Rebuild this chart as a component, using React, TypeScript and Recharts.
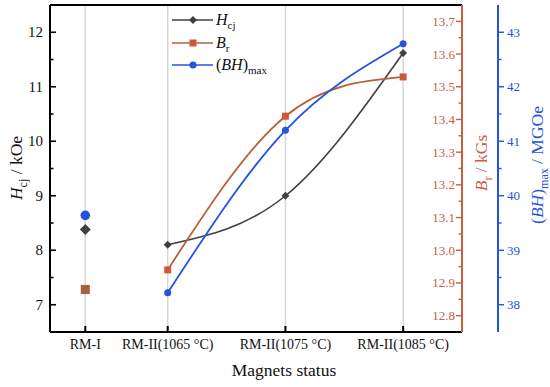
import React from 'react';
import { ComposedChart, Line, XAxis, YAxis, CartesianGrid, ReferenceLine, Legend } from 'recharts';

const categories = ['RM-I', 'RM-II(1065 °C)', 'RM-II(1075 °C)', 'RM-II(1085 °C)'];
const xValues = [1058, 1065, 1075, 1085];
const hcjValues = [8.38, 8.1, 9.0, 11.62];
const brValues = [12.88, 12.94, 13.41, 13.53];
const bhValues = [39.64, 38.22, 41.2, 42.79];

const hcjTicks = [7, 7.5, 8, 8.5, 9, 9.5, 10, 10.5, 11, 11.5, 12];
const brTicks = [12.8, 12.85, 12.9, 12.95, 13.0, 13.05, 13.1, 13.15, 13.2, 13.25, 13.3, 13.35, 13.4, 13.45, 13.5, 13.55, 13.6, 13.65, 13.7];
const bhTicks = [38, 38.5, 39, 39.5, 40, 40.5, 41, 41.5, 42, 42.5, 43];

const rows = xValues.map((x, i) => ({ x, hcj: hcjValues[i], br: brValues[i], bh: bhValues[i] }));
const rmIData = rows.slice(0, 1);
const lineData = rows.slice(1);

const FONT = 'Liberation Serif, DejaVu Serif, serif';
const HCJ_COLOR = '#404040';
const BR_LINE = '#b8603a';
const BR_MARK = '#d4553a';
const BR_AXIS = '#c8603f';
const BH_COLOR = '#2553df';
const BH_AXIS = '#2452e0';

const isMult = (v: number, step: number) => Math.abs(v / step - Math.round(v / step)) < 1e-6;

const LeftTick = (p: any) => {
  const { x, y, payload } = p;
  const major = isMult(payload.value, 1);
  return (
    <g>
      <line x1={x} x2={x + (major ? 6 : 3.5)} y1={y} y2={y} stroke="#000" strokeWidth={1.6} />
      {major && (
        <text x={x - 7} y={y} dy={5} textAnchor="end" style={{ fontFamily: FONT, fontSize: 15 }} fill="#111">
          {payload.value}
        </text>
      )}
    </g>
  );
};

const BrTick = (p: any) => {
  const { x, y, payload } = p;
  const major = isMult(payload.value, 0.1);
  return (
    <g>
      <line x1={x} x2={x - (major ? 6 : 3.5)} y1={y} y2={y} stroke={BR_AXIS} strokeWidth={1.4} />
      {major && (
        <text x={x - 7} y={y} dy={4.5} textAnchor="end" style={{ fontFamily: FONT, fontSize: 13 }} fill={BR_AXIS}>
          {payload.value.toFixed(1)}
        </text>
      )}
    </g>
  );
};

const BhTick = (p: any) => {
  const { x, y, payload } = p;
  const major = isMult(payload.value, 1);
  return (
    <g>
      <line x1={x} x2={x + (major ? 6 : 3.5)} y1={y} y2={y} stroke={BH_AXIS} strokeWidth={1.4} />
      {major && (
        <text x={x + 9} y={y} dy={4.5} textAnchor="start" style={{ fontFamily: FONT, fontSize: 13 }} fill={BH_AXIS}>
          {payload.value}
        </text>
      )}
    </g>
  );
};

const XTick = (p: any) => {
  const { x, y, payload } = p;
  const idx = xValues.indexOf(payload.value);
  return (
    <g>
      <line x1={x} x2={x} y1={y} y2={y - 6} stroke="#000" strokeWidth={2} />
      <text x={x} y={y + 17} textAnchor="middle" style={{ fontFamily: FONT, fontSize: 14 }} fill="#111">
        {categories[idx]}
      </text>
    </g>
  );
};

const Diamond = (size: number, color: string) => (p: any) => {
  const { cx, cy, index } = p;
  if (cx == null || cy == null) return <g key={index} />;
  return (
    <polygon
      key={index}
      points={`${cx},${cy - size} ${cx + size},${cy} ${cx},${cy + size} ${cx - size},${cy}`}
      fill={color}
    />
  );
};
const Square = (size: number, color: string) => (p: any) => {
  const { cx, cy, index } = p;
  if (cx == null || cy == null) return <g key={index} />;
  return <rect key={index} x={cx - size} y={cy - size} width={size * 2} height={size * 2} fill={color} />;
};
const Circle = (r: number, color: string) => (p: any) => {
  const { cx, cy, index } = p;
  if (cx == null || cy == null) return <g key={index} />;
  return <circle key={index} cx={cx} cy={cy} r={r} fill={color} />;
};

const LeftLabel = () => (
  <text transform="translate(22,168) rotate(-90)" textAnchor="middle" style={{ fontFamily: FONT, fontSize: 17.5 }} fill="#111">
    <tspan fontStyle="italic">H</tspan>
    <tspan style={{ fontSize: 12 }} dy={5}>cj</tspan>
    <tspan dy={-5}> / kOe</tspan>
  </text>
);

const BrLabel = () => (
  <text transform="translate(487,163) rotate(-90)" textAnchor="middle" style={{ fontFamily: FONT, fontSize: 17.5 }} fill={BR_AXIS}>
    <tspan fontStyle="italic">B</tspan>
    <tspan style={{ fontSize: 12 }} dy={5}>r</tspan>
    <tspan dy={-5}> / kGs</tspan>
  </text>
);

const BhLabel = () => (
  <text transform="translate(543,165) rotate(-90)" textAnchor="middle" style={{ fontFamily: FONT, fontSize: 17.5 }} fill={BH_AXIS}>
    <tspan>(</tspan>
    <tspan fontStyle="italic">BH</tspan>
    <tspan>)</tspan>
    <tspan style={{ fontSize: 12 }} dy={5}>max</tspan>
    <tspan dy={-5}> / MGOe</tspan>
  </text>
);

const XLabel = () => (
  <text x={284} y={376} textAnchor="middle" style={{ fontFamily: FONT, fontSize: 17.5 }} fill="#111">
    Magnets status
  </text>
);

const LegendContent = () => (
  <svg width={130} height={72} style={{ display: 'block' }}>
    <g style={{ fontFamily: FONT, fontSize: 16 }} fill="#111">
      <line x1={4} x2={45} y1={12} y2={12} stroke={HCJ_COLOR} strokeWidth={1.6} />
      <polygon points="25,8 29,12 25,16 21,12" fill={HCJ_COLOR} />
      <text x={48} y={17}>
        <tspan fontStyle="italic">H</tspan>
        <tspan style={{ fontSize: 11 }} dy={4}>cj</tspan>
      </text>
      <line x1={4} x2={45} y1={35} y2={35} stroke={BR_LINE} strokeWidth={1.6} />
      <rect x={21.5} y={31.5} width={7} height={7} fill={BR_MARK} />
      <text x={48} y={40}>
        <tspan fontStyle="italic">B</tspan>
        <tspan style={{ fontSize: 11 }} dy={4}>r</tspan>
      </text>
      <line x1={4} x2={45} y1={57} y2={57} stroke={BH_COLOR} strokeWidth={1.6} />
      <circle cx={25} cy={57} r={3.5} fill={BH_COLOR} />
      <text x={48} y={62}>
        <tspan>(</tspan>
        <tspan fontStyle="italic">BH</tspan>
        <tspan>)</tspan>
        <tspan style={{ fontSize: 11 }} dy={4}>max</tspan>
      </text>
    </g>
  </svg>
);

export default function App() {
  return (
    <div style={{ position: 'absolute', left: 0, top: 0, background: '#fff' }}>
      <ComposedChart width={550} height={387} margin={{ top: 5, right: 0, bottom: 0, left: 0 }}>
        <CartesianGrid horizontal={false} stroke="#d6d6d6" strokeWidth={1.5} />
        <XAxis
          type="number"
          dataKey="x"
          domain={[1055, 1090]}
          ticks={xValues}
          interval={0}
          allowDataOverflow
          height={55}
          tickSize={0}
          tickMargin={0}
          tick={XTick}
          axisLine={{ stroke: '#000', strokeWidth: 2 }}
          tickLine={false}
          label={XLabel}
        />
        <YAxis
          domain={[6.5, 12.5]}
          ticks={hcjTicks}
          interval={0}
          allowDataOverflow
          width={50}
          tickSize={0}
          tickMargin={0}
          tick={LeftTick}
          tickLine={false}
          axisLine={{ stroke: '#000', strokeWidth: 2 }}
          label={LeftLabel}
        />
        <YAxis
          yAxisId="r2"
          orientation="right"
          domain={[37.5, 43.5]}
          ticks={bhTicks}
          interval={0}
          allowDataOverflow
          width={52}
          tickSize={0}
          tickMargin={0}
          tick={BhTick}
          tickLine={false}
          axisLine={{ stroke: BH_AXIS, strokeWidth: 2 }}
          label={BhLabel}
        />
        <YAxis
          yAxisId="r1"
          orientation="right"
          domain={[12.75, 13.75]}
          ticks={brTicks}
          interval={0}
          allowDataOverflow
          width={36}
          tickSize={0}
          tickMargin={0}
          tick={BrTick}
          tickLine={false}
          axisLine={{ stroke: BR_AXIS, strokeWidth: 2 }}
          label={BrLabel}
        />
        <ReferenceLine y={12.5} stroke="#000" strokeWidth={2} />
        <Legend
          layout="vertical"
          align="center"
          verticalAlign="middle"
          wrapperStyle={{ left: 168, top: 8, width: 130 }}
          content={LegendContent}
        />
        <Line data={lineData} dataKey="hcj" type="natural" stroke={HCJ_COLOR} strokeWidth={1.6} dot={Diamond(4, HCJ_COLOR)} isAnimationActive={false} />
        <Line data={lineData} yAxisId="r1" dataKey="br" type="natural" stroke={BR_LINE} strokeWidth={1.8} dot={Square(3.5, BR_MARK)} isAnimationActive={false} />
        <Line data={lineData} yAxisId="r2" dataKey="bh" type="natural" stroke={BH_COLOR} strokeWidth={1.8} dot={Circle(3.5, BH_COLOR)} isAnimationActive={false} />
        <Line data={rmIData} dataKey="hcj" stroke="none" dot={Diamond(5.5, HCJ_COLOR)} isAnimationActive={false} />
        <Line data={rmIData} yAxisId="r1" dataKey="br" stroke="none" dot={Square(4.5, '#a8603c')} isAnimationActive={false} />
        <Line data={rmIData} yAxisId="r2" dataKey="bh" stroke="none" dot={Circle(4.8, BH_COLOR)} isAnimationActive={false} />
      </ComposedChart>
    </div>
  );
}
